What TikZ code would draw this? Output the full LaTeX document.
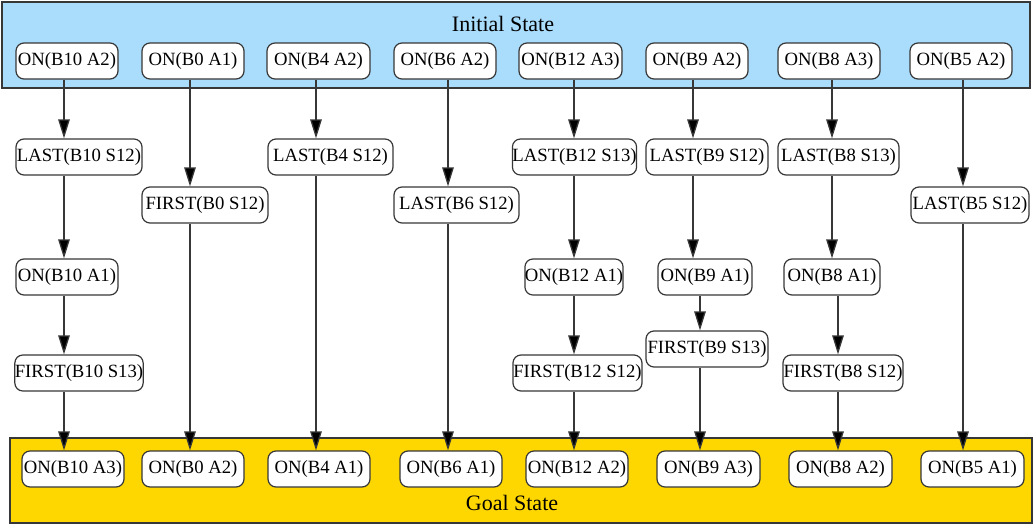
\documentclass[tikz,border=0pt]{standalone}
\usepackage{fontspec}
\setmainfont{Liberation Serif}
\usetikzlibrary{arrows.meta}
\definecolor{initfill}{RGB}{170,220,252}
\definecolor{goalfill}{RGB}{255,215,0}
\definecolor{linegray}{RGB}{55,55,55}
\tikzset{
  cluster/.style={draw=linegray, line width=1.2pt, inner sep=0pt},
  state/.style={draw=linegray, line width=1.2pt, fill=white, rounded corners=8pt,
    minimum height=36pt, inner sep=0pt, font=\fontsize{18.7}{20}\selectfont},
  ctitle/.style={inner sep=0pt, font=\fontsize{22}{24}\selectfont},
  edge/.style={draw=linegray, line width=1.3pt,
    -{Triangle[length=19pt,width=11.5pt,fill=black]}},
}
\newcommand{\stnode}[5]{\node[state, minimum width=#4pt] (#1) at (#2,#3) {#5};}
\begin{document}
\begin{tikzpicture}[x=1pt,y=-1pt]
\useasboundingbox (0,0) rectangle (1034,525);

% clusters
\node[cluster, fill=initfill, minimum width=1028pt, minimum height=86pt] (init) at (516,45) {};
\node[ctitle] (inittitle) at (503,24) {Initial State};
\node[cluster, fill=goalfill, minimum width=1022pt, minimum height=85pt] (goal) at (521,480.5) {};
\node[ctitle] (goaltitle) at (512,503) {Goal State};

% initial state
\stnode{t1}{67}{61}{102}{ON(B10 A2)}
\stnode{t2}{193}{61}{102}{ON(B0 A1)}
\stnode{t3}{318.5}{61}{103}{ON(B4 A2)}
\stnode{t4}{445}{61}{102}{ON(B6 A2)}
\stnode{t5}{570.5}{61}{103}{ON(B12 A3)}
\stnode{t6}{697}{61}{102}{ON(B9 A2)}
\stnode{t7}{829}{61}{102}{ON(B8 A3)}
\stnode{t8}{961}{61}{102}{ON(B5 A2)}

% intermediate steps
\stnode{a1}{79}{157}{126}{LAST(B10 S12)}
\stnode{a3}{330.5}{157}{125}{LAST(B4 S12)}
\stnode{a5}{574.5}{157}{121}{LAST(B12 S13)}
\stnode{a6}{707}{157}{122}{LAST(B9 S12)}
\stnode{a7}{838.5}{157}{121}{LAST(B8 S13)}

\stnode{a2}{205}{205}{126}{FIRST(B0 S12)}
\stnode{a4}{456.5}{205}{125}{LAST(B6 S12)}
\stnode{a8}{970}{205}{118}{LAST(B5 S12)}

\stnode{b1}{67}{277}{102}{ON(B10 A1)}
\stnode{b5}{574}{277}{96}{ON(B12 A1)}
\stnode{b6}{705}{277}{94}{ON(B9 A1)}
\stnode{b7}{832}{277}{96}{ON(B8 A1)}

\stnode{c6}{707}{349}{122}{FIRST(B9 S13)}
\stnode{c1}{79}{373}{126}{FIRST(B10 S13)}
\stnode{c5}{577.5}{373}{129}{FIRST(B12 S12)}
\stnode{c7}{843}{373}{120}{FIRST(B8 S12)}

% goal state
\stnode{g1}{73}{469}{102}{ON(B10 A3)}
\stnode{g2}{193}{469}{102}{ON(B0 A2)}
\stnode{g3}{319}{469}{102}{ON(B4 A1)}
\stnode{g4}{451}{469}{102}{ON(B6 A1)}
\stnode{g5}{577}{469}{102}{ON(B12 A2)}
\stnode{g6}{708.5}{469}{103}{ON(B9 A3)}
\stnode{g7}{840.5}{469}{103}{ON(B8 A2)}
\stnode{g8}{972.5}{469}{103}{ON(B5 A1)}

% vertical tracks of the edges
\coordinate (k1) at (64,0);
\coordinate (k2) at (190,0);
\coordinate (k3) at (316,0);
\coordinate (k4) at (448,0);
\coordinate (k5) at (574,0);
\coordinate (k6) at (693,0);
\coordinate (k6b) at (700,0);
\coordinate (k7) at (832,0);
\coordinate (k7b) at (838,0);
\coordinate (k8) at (963,0);

% B10
\draw[edge] (t1.south -| k1) -- (a1.north -| k1);
\draw[edge] (a1.south -| k1) -- (b1.north -| k1);
\draw[edge] (b1.south -| k1) -- (c1.north -| k1);
\draw[edge] (c1.south -| k1) -- (g1.north -| k1);
% B0
\draw[edge] (t2.south -| k2) -- (a2.north -| k2);
\draw[edge] (a2.south -| k2) -- (g2.north -| k2);
% B4
\draw[edge] (t3.south -| k3) -- (a3.north -| k3);
\draw[edge] (a3.south -| k3) -- (g3.north -| k3);
% B6
\draw[edge] (t4.south -| k4) -- (a4.north -| k4);
\draw[edge] (a4.south -| k4) -- (g4.north -| k4);
% B12
\draw[edge] (t5.south -| k5) -- (a5.north -| k5);
\draw[edge] (a5.south -| k5) -- (b5.north -| k5);
\draw[edge] (b5.south -| k5) -- (c5.north -| k5);
\draw[edge] (c5.south -| k5) -- (g5.north -| k5);
% B9
\draw[edge] (t6.south -| k6) -- (a6.north -| k6);
\draw[edge] (a6.south -| k6) -- (b6.north -| k6);
\draw[edge] (b6.south -| k6b) -- (c6.north -| k6b);
\draw[edge] (c6.south -| k6b) -- (g6.north -| k6b);
% B8
\draw[edge] (t7.south -| k7) -- (a7.north -| k7);
\draw[edge] (a7.south -| k7) -- (b7.north -| k7);
\draw[edge] (b7.south -| k7b) -- (c7.north -| k7b);
\draw[edge] (c7.south -| k7b) -- (g7.north -| k7b);
% B5
\draw[edge] (t8.south -| k8) -- (a8.north -| k8);
\draw[edge] (a8.south -| k8) -- (g8.north -| k8);
\end{tikzpicture}
\end{document}
